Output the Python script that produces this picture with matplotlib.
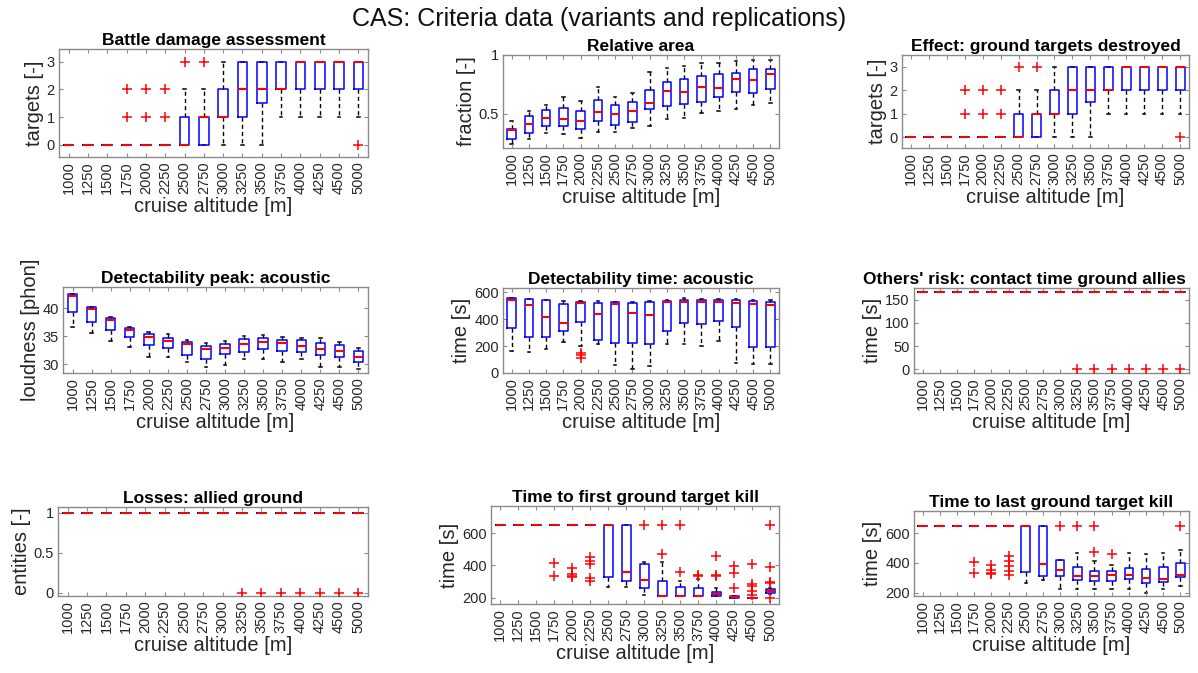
import matplotlib
matplotlib.use('Agg')
import matplotlib.pyplot as plt
from matplotlib.ticker import FuncFormatter

plt.rcParams['font.family'] = ['Liberation Sans', 'DejaVu Sans']

# ---------------- data ----------------
altitudes = [1000, 1250, 1500, 1750, 2000, 2250, 2500, 2750,
             3000, 3250, 3500, 3750, 4000, 4250, 4500, 5000]

# Battle damage assessment [targets]
bda_q1  = [0, 0, 0, 0, 0, 0, 0, 0, 1, 1, 1.5, 2, 2, 2, 2, 2]
bda_med = [0, 0, 0, 0, 0, 0, 0, 1, 1, 2, 2, 2, 3, 3, 3, 3]
bda_q3  = [0, 0, 0, 0, 0, 0, 1, 1, 2, 3, 3, 3, 3, 3, 3, 3]
bda_lo  = [0, 0, 0, 0, 0, 0, 0, 0, 0, 0, 0, 1, 1, 1, 1, 1]
bda_hi  = [0, 0, 0, 0, 0, 0, 2, 2, 3, 3, 3, 3, 3, 3, 3, 3]
bda_out = [[], [], [], [1, 2], [1, 2], [1, 2], [3], [3],
           [], [], [], [], [], [], [], [0]]

# Relative area [fraction]
area_q1  = [0.288, 0.339, 0.393, 0.393, 0.373, 0.443, 0.407, 0.432,
            0.540, 0.565, 0.585, 0.600, 0.641, 0.686, 0.681, 0.715]
area_med = [0.359, 0.418, 0.463, 0.455, 0.438, 0.520, 0.503, 0.528,
            0.590, 0.692, 0.684, 0.732, 0.720, 0.800, 0.785, 0.836]
area_q3  = [0.373, 0.480, 0.531, 0.551, 0.523, 0.616, 0.579, 0.599,
            0.700, 0.768, 0.800, 0.822, 0.842, 0.850, 0.884, 0.881]
area_lo  = [0.243, 0.285, 0.336, 0.333, 0.297, 0.350, 0.350, 0.376,
            0.398, 0.460, 0.469, 0.506, 0.525, 0.540, 0.576, 0.590]
area_hi  = [0.443, 0.525, 0.579, 0.647, 0.610, 0.726, 0.647, 0.675,
            0.853, 0.887, 0.907, 0.932, 0.932, 0.949, 0.958, 0.958]

# Effect: ground targets destroyed [targets]
eff_q1  = [0, 0, 0, 0, 0, 0, 0, 0, 1, 1, 1.5, 2, 2, 2, 2, 2]
eff_med = [0, 0, 0, 0, 0, 0, 0, 1, 1, 2, 2, 2, 3, 3, 3, 3]
eff_q3  = [0, 0, 0, 0, 0, 0, 1, 1, 2, 3, 3, 3, 3, 3, 3, 3]
eff_lo  = [0, 0, 0, 0, 0, 0, 0, 0, 0, 0, 0, 1, 1, 1, 1, 1]
eff_hi  = [0, 0, 0, 0, 0, 0, 2, 2, 3, 3, 3, 3, 3, 3, 3, 3]
eff_out = [[], [], [], [1, 2], [1, 2], [1, 2], [3], [3],
           [], [], [], [], [], [], [], [0]]

# Detectability peak: acoustic [phon]
peak_q1  = [39.4, 37.56, 36.13, 34.82, 33.45, 32.92, 31.67, 30.89,
            31.79, 32.26, 32.68, 32.44, 32.14, 31.67, 31.25, 30.36]
peak_med = [42.26, 39.94, 37.98, 36.13, 34.82, 34.23, 33.57, 32.74,
            32.98, 33.57, 34.05, 33.75, 33.33, 32.80, 32.38, 31.37]
peak_q3  = [42.5, 40.24, 38.27, 36.55, 35.42, 34.64, 33.93, 33.27,
            33.63, 34.46, 34.76, 34.35, 34.35, 33.87, 33.39, 32.38]
peak_lo  = [36.7, 35.65, 34.23, 33.15, 31.37, 31.37, 30.36, 29.58,
            29.94, 31.01, 30.89, 30.48, 30.95, 29.46, 29.58, 29.23]
peak_hi  = [42.6, 40.3, 38.5, 36.7, 35.83, 35.36, 34.35, 33.8,
            34.23, 35.06, 35.3, 34.94, 34.64, 34.76, 33.99, 32.92]

# Detectability time: acoustic [s]
dtime_q1  = [336, 266, 264, 316, 378, 244, 224, 224,
             214, 311, 373, 366, 388, 343, 194, 192]
dtime_med = [540, 508, 416, 373, 518, 438, 510, 448,
             431, 525, 528, 528, 525, 520, 513, 503]
dtime_q3  = [555, 548, 540, 510, 528, 523, 525, 523,
             530, 538, 545, 543, 543, 540, 535, 530]
dtime_lo  = [162, 157, 182, 232, 199, 217, 62, 27,
             52, 217, 217, 199, 241, 75, 67, 65]
dtime_hi  = [560, 550, 543, 538, 535, 533, 530, 525,
             535, 545, 555, 553, 553, 548, 543, 540]
dtime_out = [[], [], [], [], [152, 133, 115], [], [], [],
             [], [], [], [], [], [], [], []]

# Others' risk: contact time ground allies [s]
risk_med = [167] * 16
risk_out = [[], [], [], [], [], [], [], [], [],
            [0], [0], [0], [0], [0], [0], [0]]

# Losses: allied ground [entities]
loss_med = [1] * 16
loss_out = [[], [], [], [], [], [], [], [], [],
            [0], [0], [0], [0], [0], [0], [0]]

# Time to first ground target kill [s]
first_q1  = [650, 650, 650, 650, 650, 650, 326, 306,
             260, 212, 212, 212, 212, 196, 200, 231]
first_med = [650, 650, 650, 650, 650, 650, 650, 357,
             310, 212, 212, 212, 222, 202, 200, 243]
first_q3  = [650, 650, 650, 650, 650, 650, 650, 650,
             409, 306, 264, 258, 237, 212, 200, 252]
first_lo  = [650, 650, 650, 650, 650, 650, 268, 268,
             215, 212, 212, 212, 212, 196, 200, 221]
first_hi  = [650, 650, 650, 650, 650, 650, 650, 650,
             422, 420, 306, 316, 258, 212, 200, 258]
first_out = [[], [], [], [413, 335], [382, 345, 335, 325],
             [455, 430, 410, 320, 302], [], [],
             [650], [650, 470], [650, 362], [338, 332],
             [459, 341, 333], [399, 355, 262],
             [407, 283, 270, 240, 215], [650, 390, 300, 290, 200]]

# Time to last ground target kill [s]
last_q1  = [650, 650, 650, 650, 650, 650, 342, 312,
            312, 285, 281, 281, 290, 263, 270, 308]
last_med = [650, 650, 650, 650, 650, 650, 650, 393,
            355, 312, 312, 317, 319, 299, 290, 319]
last_q3  = [650, 650, 650, 650, 650, 650, 650, 650,
            420, 371, 348, 348, 364, 357, 371, 400]
last_lo  = [650, 650, 650, 650, 650, 650, 267, 285,
            222, 222, 222, 222, 222, 200, 222, 245]
last_hi  = [650, 650, 650, 650, 650, 650, 650, 650,
            420, 470, 413, 386, 470, 463, 465, 485]
last_out = [[], [], [], [405, 333], [386, 350, 335, 322],
            [447, 416, 377, 346, 320], [], [],
            [650], [650], [650, 476], [458],
            [], [], [], [650]]


def make_stats(q1, med, q3, lo, hi, out=None):
    stats = []
    for i in range(len(med)):
        stats.append(dict(q1=q1[i], med=med[i], q3=q3[i],
                          whislo=lo[i], whishi=hi[i],
                          fliers=(out[i] if out else [])))
    return stats


# ---------------- figure ----------------
W, H = 1198, 673
fig = plt.figure(figsize=(W / 100, H / 100), dpi=100)
fig.patch.set_facecolor('white')

fig.text(0.5, 1 - 19 / H, 'CAS: Criteria data (variants and replications)',
         ha='center', va='center', fontsize=18, color='#111111')

TXT = '#262626'
SPN = '#8a8a8a'


def panel(rect_px, stats, title, ylabel, ylim, yticks, title_x=0.5):
    L, T, R, B = rect_px
    ax = fig.add_axes([L / W, 1 - B / H, (R - L) / W, (B - T) / H])
    pos = list(range(1, len(altitudes) + 1))
    ax.bxp(stats, positions=pos, widths=0.5, capwidths=0.14,
           showfliers=True, manage_ticks=False,
           boxprops=dict(color='#0000ff', lw=1.1, zorder=2),
           medianprops=dict(color='#ff0000', lw=1.5, zorder=3),
           whiskerprops=dict(color='black', lw=1.0, linestyle=(0, (3, 2.2)),
                             zorder=1.5),
           capprops=dict(color='black', lw=1.1, zorder=1.5),
           flierprops=dict(marker='+', markeredgecolor='#ff0000',
                           markerfacecolor='none', markersize=7.5,
                           markeredgewidth=1.1, linestyle='none', zorder=3))
    ax.set_xlim(0.5, len(altitudes) + 0.5)
    ax.set_ylim(*ylim)
    ax.set_xticks(pos)
    ax.set_xticklabels([str(a) for a in altitudes], rotation=90, fontsize=10.5)
    ax.set_yticks(yticks)
    ax.yaxis.set_major_formatter(FuncFormatter(lambda v, p: '%g' % v))
    ax.tick_params(direction='in', top=True, right=True, length=3,
                   width=0.8, color=SPN, labelcolor=TXT, labelsize=10.5,
                   pad=3)
    for s in ax.spines.values():
        s.set_color(SPN)
        s.set_linewidth(1.0)
    ax.set_title(title, fontsize=12.5, fontweight='bold', pad=3, color='black',
                 x=title_x)
    ax.set_xlabel('cruise altitude [m]', fontsize=14.5, color=TXT, labelpad=2)
    ax.set_ylabel(ylabel, fontsize=14.5, color=TXT, labelpad=2)
    return ax


panel((59, 49, 368, 157),
      make_stats(bda_q1, bda_med, bda_q3, bda_lo, bda_hi, bda_out),
      'Battle damage assessment', 'targets [-]', (-0.45, 3.47), [0, 1, 2, 3])
panel((503, 55, 779, 148),
      make_stats(area_q1, area_med, area_q3, area_lo, area_hi),
      'Relative area', 'fraction [-]', (0.21, 1.0), [0.5, 1])
panel((902, 55, 1189, 148),
      make_stats(eff_q1, eff_med, eff_q3, eff_lo, eff_hi, eff_out),
      'Effect: ground targets destroyed', 'targets [-]', (-0.45, 3.5), [0, 1, 2, 3])

panel((63, 287, 368, 373),
      make_stats(peak_q1, peak_med, peak_q3, peak_lo, peak_hi),
      'Detectability peak: acoustic', 'loudness [phon]', (28.45, 43.8), [30, 35, 40])
panel((503, 288, 779, 373),
      make_stats(dtime_q1, dtime_med, dtime_q3, dtime_lo, dtime_hi, dtime_out),
      'Detectability time: acoustic', 'time [s]', (0, 632), [0, 200, 400, 600])
panel((914, 288, 1189, 373),
      make_stats(risk_med, risk_med, risk_med, risk_med, risk_med, risk_out),
      "Others' risk: contact time ground allies", 'time [s]', (-8.35, 175.35),
      [0, 50, 100, 150], title_x=0.4)

panel((58, 507, 368, 596),
      make_stats(loss_med, loss_med, loss_med, loss_med, loss_med, loss_out),
      'Losses: allied ground', 'entities [-]', (-0.04, 1.07), [0, 0.5, 1])
panel((491, 506, 779, 604),
      make_stats(first_q1, first_med, first_q3, first_lo, first_hi, first_out),
      'Time to first ground target kill', 'time [s]', (160, 770), [200, 400, 600])
panel((914, 511, 1189, 596),
      make_stats(last_q1, last_med, last_q3, last_lo, last_hi, last_out),
      'Time to last ground target kill', 'time [s]', (177, 750), [200, 400, 600])

fig.savefig('out.png', dpi=100, facecolor='white')
